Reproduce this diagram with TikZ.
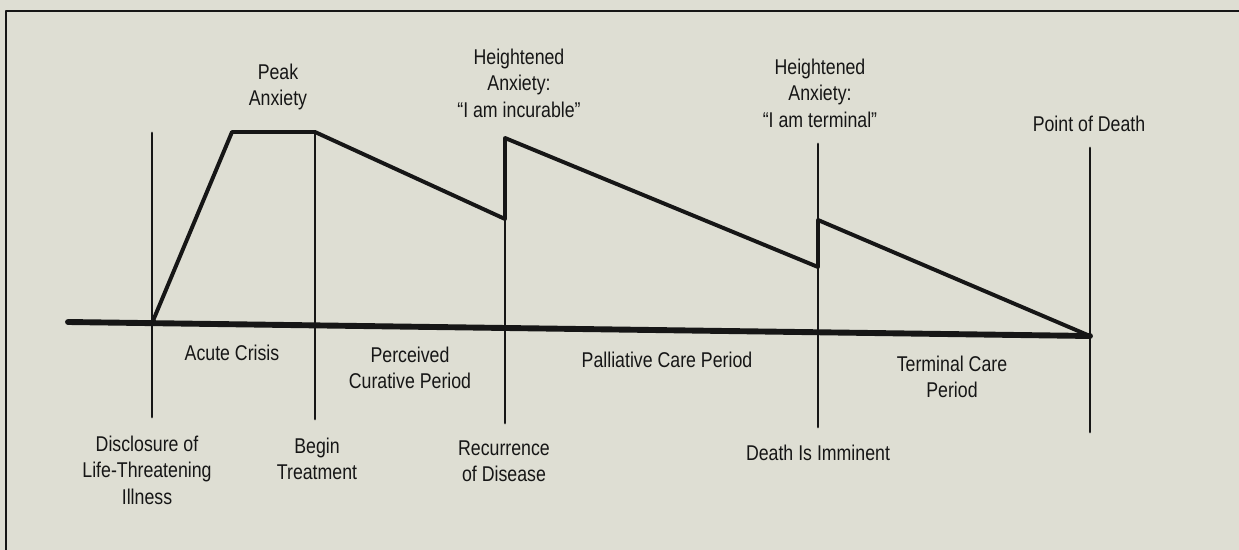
\documentclass[tikz,border=0pt]{standalone}
\usepackage{fontspec}
\setmainfont{Liberation Sans}[FakeStretch=0.83]
\definecolor{paper}{RGB}{222,222,211}
\definecolor{ink}{RGB}{22,22,22}
\tikzset{
  lbl/.style={align=center, inner sep=0pt, text=ink},
  axis/.style={line width=4.2pt, ink},
  tick/.style={line width=2.1pt, ink},
  anx/.style={line width=2.8pt, ink}
}
\begin{document}
\begin{tikzpicture}[x=0.025cm, y=-0.025cm, font=\fontsize{15.2}{18.8}\selectfont, line join=round, line cap=round]
	\def\W{1239} \def\H{550} % picture size
	\useasboundingbox (0,0) rectangle (\W,\H);
	\fill[paper] (-10,-10) rectangle (\W+10,\H+10);
	\draw[line width=1.4pt, ink] (6,\H+10)--(6,11)--(\W+10,11); % frame
	% time axis
	\coordinate (axL) at (68,322);
	\coordinate (axR) at (1090,336);
	\draw[axis] (axL)--(axR);
	% event markers
	\coordinate (disT) at (152,133);  \coordinate (disB) at (152,417);
	\coordinate (begT) at (315,132);  \coordinate (begB) at (315,419);
	\coordinate (recT) at (505,138);  \coordinate (recB) at (505,423);
	\coordinate (immT) at (818,144);  \coordinate (immB) at (818,427);
	\coordinate (dthT) at (1090,148); \coordinate (dthB) at (1090,432);
	\foreach \e in {dis,beg,rec,imm,dth}
		\draw[tick] (\e T)--(\e B);
	% anxiety level
	\coordinate (a0) at (152,323.2);
	\coordinate (a1) at (232,132);
	\coordinate (a2) at (505,219);
	\coordinate (a3) at (818,267);
	\coordinate (a4) at (818,220);
	\draw[anx] (a0)--(a1)--(begT)--(a2)--(recT)--(a3)--(a4)--(axR);
	% labels above
	\node[lbl] (peak) at (278,87) {Peak\\Anxiety};
	\node[lbl] (incur) at (519,83) {Heightened\\Anxiety:\\``I am incurable''};
	\node[lbl] (termq) at (820,93) {Heightened\\Anxiety:\\``I am terminal''};
	\node[lbl] (pod) at (1089,124) {Point of Death};
	% periods
	\node[lbl] (acute) at (232,353) {Acute Crisis};
	\node[lbl] (curat) at (410,368) {Perceived\\Curative Period};
	\node[lbl] (pallc) at (667,360) {Palliative Care Period};
	\node[lbl] (termc) at (952,377) {Terminal Care\\Period};
	% events below
	\node[lbl] (discl) at (147,470) {Disclosure of\\Life-Threatening\\Illness};
	\node[lbl] (begin) at (317,459) {Begin\\Treatment};
	\node[lbl] (recur) at (504,461) {Recurrence\\of Disease};
	\node[lbl] (immin) at (818,453) {Death Is Imminent};
\end{tikzpicture}
\end{document}
